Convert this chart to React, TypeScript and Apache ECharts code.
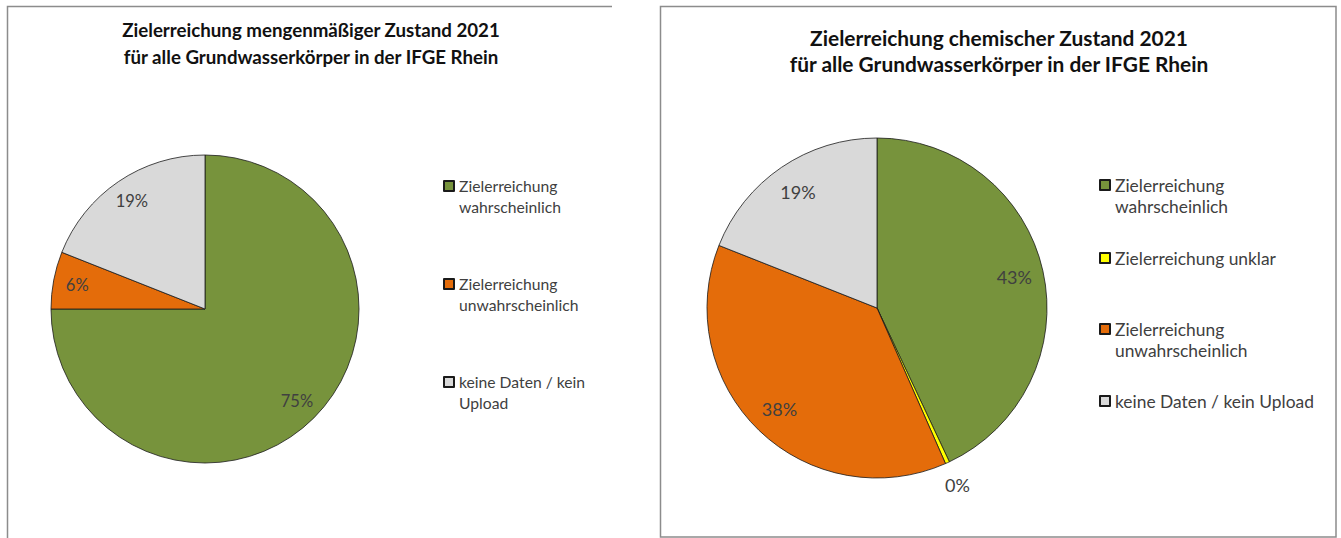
import React, { useEffect, useRef } from "react";
import * as echarts from "echarts";

const leftTitle = "Zielerreichung mengenmäßiger Zustand 2021\nfür alle Grundwasserkörper in der IFGE Rhein";
const rightTitle = "Zielerreichung chemischer Zustand 2021\nfür alle Grundwasserkörper in der IFGE Rhein";

const leftCategories = ["Zielerreichung wahrscheinlich", "Zielerreichung unwahrscheinlich", "keine Daten / kein Upload"];
const leftValues = [75, 6, 19];
const leftColors = ["#77933C", "#E46C0A", "#D9D9D9"];
const leftLegendText = ["Zielerreichung\nwahrscheinlich", "Zielerreichung\nunwahrscheinlich", "keine Daten / kein\nUpload"];

const rightCategories = ["Zielerreichung wahrscheinlich", "Zielerreichung unklar", "Zielerreichung unwahrscheinlich", "keine Daten / kein Upload"];
const rightValues = [43, 0.4, 37.6, 19];
const rightColors = ["#77933C", "#FFFF00", "#E46C0A", "#D9D9D9"];
const rightLegendText = ["Zielerreichung\nwahrscheinlich", "Zielerreichung unklar", "Zielerreichung\nunwahrscheinlich", "keine Daten / kein Upload"];
const rightOutsideLabel = [false, true, false, false];

const FONT = "Lato";
const TEXT = "#404040";
const LH = 21;

export default function App() {
  const ref = useRef<HTMLDivElement>(null);
  useEffect(() => {
    const chart = echarts.init(ref.current!, null, { renderer: "svg" });

    const L = { cx: 205, cy: 309, r: 154 };
    const R = { cx: 877, cy: 308, r: 170 };

    const pctLabel = (p: any) => Math.round(p.percent) + "%";

    const mainSeries = (cats: string[], vals: number[], cols: string[], c: any) => ({
      type: "pie",
      center: [c.cx, c.cy],
      radius: [0, c.r],
      startAngle: 90,
      clockwise: true,
      avoidLabelOverlap: false,
      label: { show: false },
      labelLine: { show: false },
      emphasis: { disabled: true },
      itemStyle: { borderColor: "#1a1a1a", borderWidth: 0.8 },
      data: cats.map((n, i) => ({ name: n, value: vals[i], itemStyle: { color: cols[i] } })),
    });

    const labelSeries = (cats: string[], vals: number[], c: any, factor: number, showMask: boolean[], fs: number) => ({
      type: "pie",
      center: [c.cx, c.cy],
      radius: [0, c.r * factor],
      startAngle: 90,
      clockwise: true,
      silent: true,
      avoidLabelOverlap: false,
      emphasis: { disabled: true },
      labelLine: { show: false },
      itemStyle: { color: "rgba(0,0,0,0)", borderWidth: 0 },
      label: { show: true, position: "inside", formatter: pctLabel, color: TEXT, fontFamily: FONT, fontSize: fs },
      data: cats.map((n, i) => ({ name: n + " ", value: vals[i], label: { show: showMask[i] } })),
    });

    const legends: any[] = [];
    const makeLegend = (name: string, text: string, left: number, markerY: number, fs: number) => {
      const two = text.includes("\n");
      return {
        data: [name],
        left,
        top: two ? markerY - 1.5 * LH : markerY - LH / 2,
        padding: 0,
        orient: "vertical",
        icon: "rect",
        itemWidth: 10,
        itemHeight: 10,
        selectedMode: false,
        formatter: () => (two ? "\u00a0\n" + text : text),
        textStyle: { color: TEXT, fontFamily: FONT, fontSize: fs, lineHeight: LH },
      };
    };
    const leftMarkerY = [186, 284, 382];
    leftCategories.forEach((n, i) => legends.push(makeLegend(n, leftLegendText[i], 443, leftMarkerY[i], 15.7)));
    const rightMarkerY = [185, 258, 329, 401];
    rightCategories.forEach((n, i) => legends.push(makeLegend(n, rightLegendText[i], 1099, rightMarkerY[i], 17.4)));

    chart.setOption({
      animation: false,
      backgroundColor: "#ffffff",
      title: [
        {
          text: leftTitle,
          left: 311,
          top: 16.5,
          textAlign: "center",
          padding: 0,
          textStyle: { fontFamily: FONT, fontWeight: "bold", fontSize: 18.7, lineHeight: 27, color: "#111" },
        },
        {
          text: rightTitle,
          left: 999,
          top: 24,
          textAlign: "center",
          padding: 0,
          textStyle: { fontFamily: FONT, fontWeight: "bold", fontSize: 20.9, lineHeight: 26, color: "#111" },
        },
      ],
      legend: legends,
      graphic: [
        { type: "polyline", silent: true, shape: { points: [[7.5, 538], [7.5, 6.5], [612, 6.5]] }, style: { stroke: "#8c8c8c", lineWidth: 1.5, fill: null } },
        { type: "rect", silent: true, shape: { x: 660.5, y: 6.5, width: 675.5, height: 530.5 }, style: { stroke: "#8c8c8c", lineWidth: 1.5, fill: null } },
      ],
      series: [
        mainSeries(leftCategories, leftValues, leftColors, L),
        mainSeries(rightCategories, rightValues, rightColors, R),
        labelSeries(leftCategories, leftValues, L, 1.65, leftCategories.map(() => true), 16.5),
        labelSeries(rightCategories, rightValues, R, 1.62, rightOutsideLabel.map((o) => !o), 18),
        labelSeries(rightCategories, rightValues, R, 2.25, rightOutsideLabel, 18),
      ],
    });
    return () => chart.dispose();
  }, []);
  return <div ref={ref} style={{ position: "fixed", left: 0, top: 0, width: 1341, height: 538 }} />;
}
